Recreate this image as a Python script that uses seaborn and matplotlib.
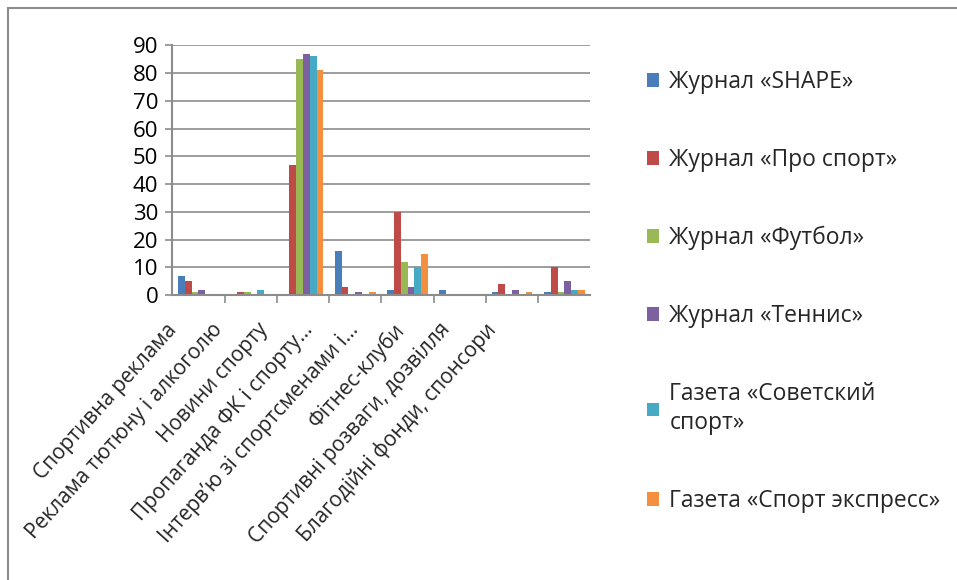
import matplotlib

matplotlib.use("Agg")

import matplotlib.pyplot as plt
import matplotlib.transforms as mtransforms
import numpy as np
import pandas as pd
import seaborn as sns

categories = [
    "Спортивна реклама",
    "Реклама тютюну і алкоголю",
    "Новини спорту",
    "Пропаганда ФК і спорту…",
    "Інтерв’ю зі спортсменами і…",
    "Фітнес-клуби",
    "Спортивні розваги, дозвілля",
    "Благодійні фонди, спонсори",
]
series = [
    "Журнал «SHAPE»",
    "Журнал «Про спорт»",
    "Журнал «Футбол»",
    "Журнал «Теннис»",
    "Газета «Советский\nспорт»",
    "Газета «Спорт экспресс»",
]
shape = [7, 0, 0, 16, 2, 2, 1, 1]
pro_sport = [5, 1, 47, 3, 30, 0, 4, 10]
football = [1, 1, 85, 0, 12, 0, 0, 1]
tennis = [2, 0, 87, 1, 3, 0, 2, 5]
sov_sport = [0, 2, 86, 0, 10, 0, 0, 2]
sport_express = [0, 0, 81, 1, 15, 0, 1, 2]
colors = ["#4A7EBB", "#BE4B48", "#98B954", "#7D60A0", "#46AAC5", "#F38F3E"]

rows = []
for name, vals in zip(series, [shape, pro_sport, football, tennis, sov_sport, sport_express]):
    for cat, v in zip(categories, vals):
        rows.append({"category": cat, "source": name, "value": v})
df = pd.DataFrame(rows)

sns.set_theme(style="white")
plt.rcParams["font.family"] = ["Open Sans", "DejaVu Sans"]

fig = plt.figure(figsize=(9.57, 5.8), dpi=100)
ax = fig.add_axes([0.18, 0.491, 0.437, 0.431])

grid_color = "#8c8c8c"
ax.set_ylim(0, 90)
ax.set_yticks(np.arange(0, 91, 10))
ax.yaxis.grid(True, color=grid_color, linewidth=1.2)
ax.set_axisbelow(True)

sns.barplot(
    data=df, x="category", y="value", hue="source", palette=colors,
    width=0.78, saturation=1, linewidth=0, ax=ax, legend=True,
)
ax.set_xlim(-0.5, len(categories) - 0.5)

for side in ["top", "right"]:
    ax.spines[side].set_visible(False)
for side in ["left", "bottom"]:
    ax.spines[side].set_color(grid_color)
    ax.spines[side].set_linewidth(1.5)

ax.set_xlabel("")
ax.set_ylabel("")
ax.tick_params(axis="y", labelsize=16, colors="black", left=True, length=5, width=1.2, color=grid_color, pad=5)
ax.set_xticks(np.arange(len(categories) - 1) + 0.5, minor=True)
ax.tick_params(axis="x", which="minor", bottom=True, length=6, width=1.2, color=grid_color)
ax.tick_params(axis="x", which="major", bottom=False, labelsize=15, pad=2)
ax.set_xticks(np.arange(len(categories)))
ax.set_xticklabels(categories, rotation=48, ha="right", rotation_mode="anchor")
# Excel packs the rotated labels a little tighter than the columns
for i, lbl in enumerate(ax.get_xticklabels()):
    offset = mtransforms.ScaledTranslation(-0.33 - 0.067 * i, -0.13, fig.dpi_scale_trans)
    lbl.set_transform(lbl.get_transform() + offset)

handles, labels = ax.get_legend_handles_labels()
leg = ax.legend(
    handles, labels, loc="upper left", bbox_to_anchor=(0.666, 0.895),
    bbox_transform=fig.transFigure, frameon=False, fontsize=16.5,
    handlelength=0.55, handleheight=0.55, handletextpad=0.45, labelspacing=2.35,
    borderaxespad=0,
)
for t in leg.get_texts():
    t.set_linespacing(1.3)

border = plt.Rectangle((0.0084, -0.5), 2, 1.486, transform=fig.transFigure,
                       fill=False, edgecolor="#8c8c8c", linewidth=1.5)
fig.patches.append(border)

fig.savefig("out.png", dpi=100)
